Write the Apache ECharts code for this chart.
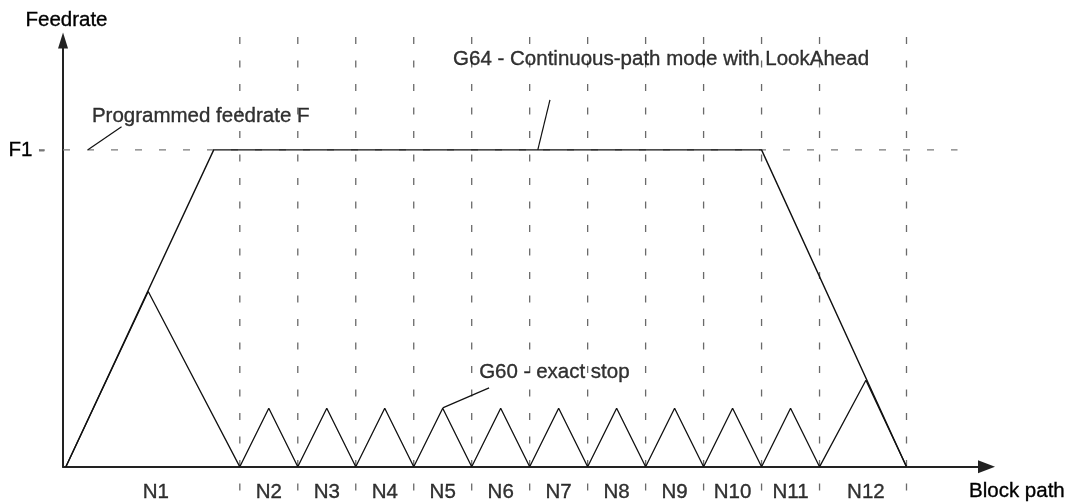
<!DOCTYPE html>
<html>
<head>
<meta charset="utf-8">
<script src="https://cdn.jsdelivr.net/npm/echarts@6/dist/echarts.min.js"></script>
<style>
  html, body { margin: 0; padding: 0; background: #fff; }
  #chart { width: 1076px; height: 502px; }
</style>
</head>
<body>
<div id="chart"></div>
<script>
// block path units along x, feedrate in % of F1 along y
const blockNames = ['N1', 'N2', 'N3', 'N4', 'N5', 'N6', 'N7', 'N8', 'N9', 'N10', 'N11', 'N12']
const blockLabelX = [16, 35.5, 45.5, 55.5, 65.5, 75.5, 85.5, 95.5, 105.5, 115.5, 125.5, 138.5]
const blockEdges = [30.5, 40.5, 50.5, 60.5, 70.5, 80.5, 90.5, 100.5, 110.5, 120.5, 130.5, 145.5]
const feedF1 = 100

// G64 continuous path with LookAhead
const g64Path = [[0.5, 0], [26, 100], [120.5, 100], [145.5, 0]]

// G60 exact stop, every block brakes to zero
const g60Path = [
  [0.5, 0], [14.7, 55.3], [30.5, 0],
  [35.5, 18.5], [40.5, 0],
  [45.5, 18.5], [50.5, 0],
  [55.5, 18.5], [60.5, 0],
  [65.5, 18.5], [70.5, 0],
  [75.5, 18.5], [80.5, 0],
  [85.5, 18.5], [90.5, 0],
  [95.5, 18.5], [100.5, 0],
  [105.5, 18.5], [110.5, 0],
  [115.5, 18.5], [120.5, 0],
  [125.5, 18.5], [130.5, 0],
  [138.5, 27.3], [145.5, 0]
]

// annotations: text anchor + leader line
const notes = [
  { text: 'Programmed feedrate F', at: [4.9, 110.6], leader: [[4.3, 100], [10.1, 107.3]] },
  { text: 'G64 - Continuous-path mode with LookAhead', at: [67.2, 128.4], leader: [[81.9, 100], [84.0, 115.8]] },
  { text: 'G60 - exact stop', at: [71.7, 29.7], leader: [[65.5, 18.6], [73.5, 24.9]] }
]

const FONT = '"Liberation Sans", Arial, sans-serif'
const INK = '#000'
const FS = 20.5
// slightly heavier glyphs, closer to the printed look
const TXT = { fontFamily: FONT, fontSize: FS, color: INK, textBorderColor: INK, textBorderWidth: 0.35 }

const chart = echarts.init(document.getElementById('chart'), null, { renderer: 'canvas' })

const guideSeries = blockEdges.map(x => ({
  type: 'line',
  clip: false,
  showSymbol: false,
  silent: true,
  data: [[x, 135.6], [x, -9.8]],
  lineStyle: { color: '#6a6a6a', width: 1.3, type: [7, 16.5] },
  z: 1
}))

const option = {
  animation: false,
  backgroundColor: '#fff',
  textStyle: { fontFamily: FONT, color: INK },
  grid: { left: 63, right: 89.5, top: 40.5, bottom: 35 },
  xAxis: {
    type: 'value',
    min: 0,
    max: 159.3,
    name: 'Block path',
    nameLocation: 'end',
    nameGap: -17.5,
    nameTextStyle: { ...TXT, verticalAlign: 'top', padding: [14, 0, 0, 0] },
    axisLine: { lineStyle: { color: '#222', width: 2 }, symbol: ['none', 'triangle'], symbolSize: [13, 17] },
    axisTick: { show: false },
    axisLabel: { show: false },
    splitLine: { show: false }
  },
  yAxis: {
    type: 'value',
    min: 0,
    max: 134.5,
    interval: 100,
    name: 'Feedrate',
    nameLocation: 'end',
    nameGap: 10,
    nameTextStyle: { ...TXT, padding: [0, 0, 0, 7] },
    axisLine: { show: true, lineStyle: { color: '#222', width: 2 }, symbol: ['none', 'triangle'], symbolSize: [10, 16] },
    axisTick: { show: false },
    axisLabel: {
      margin: 18,
      ...TXT,
      formatter: v => (v === feedF1 ? '{f|F1} {d|-}' : ''),
      rich: {
        f: { ...TXT },
        d: { fontFamily: FONT, fontSize: FS, color: '#777' }
      }
    },
    splitLine: { show: false }
  },
  series: [
    ...guideSeries,
    {
      name: 'F1',
      type: 'line',
      clip: false,
      showSymbol: false,
      data: [[0, feedF1], [154.3, feedF1]],
      lineStyle: { color: '#7a7a7a', width: 1.3, type: [7, 17] },
      z: 1
    },
    {
      name: 'G64',
      type: 'line',
      showSymbol: false,
      data: g64Path,
      lineStyle: { color: '#111', width: 1.4 },
      z: 3
    },
    {
      name: 'G60',
      type: 'line',
      showSymbol: false,
      data: g60Path,
      lineStyle: { color: '#111', width: 1.3 },
      z: 3
    },
    ...notes.map(n => ({
      type: 'line',
      showSymbol: false,
      data: n.leader,
      lineStyle: { color: '#111', width: 1.2 },
      z: 3
    })),
    {
      name: 'notes',
      type: 'scatter',
      clip: false,
      symbolSize: 1,
      itemStyle: { color: 'transparent' },
      label: {
        show: true,
        position: 'right',
        distance: 0,
        ...TXT,
        formatter: p => p.data.text
      },
      data: notes.map(n => ({ value: n.at, text: n.text })),
      z: 4
    },
    {
      name: 'blocks',
      type: 'scatter',
      clip: false,
      symbolSize: 1,
      itemStyle: { color: 'transparent' },
      label: {
        show: true,
        position: 'inside',
        ...TXT,
        formatter: p => p.data.text
      },
      data: blockNames.map((name, i) => ({ value: [blockLabelX[i], -8.2], text: name })),
      z: 4
    }
  ]
}

chart.setOption(option)
window.addEventListener('resize', () => chart.resize())
</script>
</body>
</html>
